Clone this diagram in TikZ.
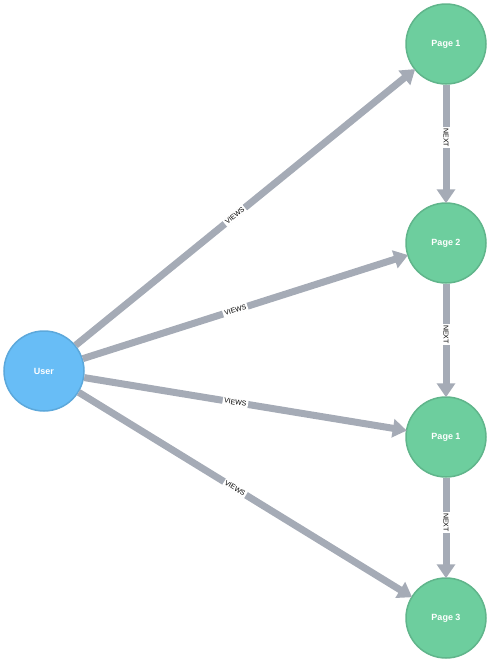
\documentclass[tikz,border=0pt]{standalone}
\usepackage{fontspec}
\setmainfont{Liberation Sans}
\usetikzlibrary{arrows.meta}
\definecolor{userfill}{HTML}{68BDF6}
\definecolor{userdraw}{HTML}{5CA8DB}
\definecolor{pagefill}{HTML}{6DCE9E}
\definecolor{pagedraw}{HTML}{60B58B}
\definecolor{edgecol}{HTML}{A5ABB6}
\tikzset{
  usernode/.style={circle, minimum size=80pt, inner sep=0pt, fill=userfill, draw=userdraw, line width=1.5pt, text=white, font=\bfseries\fontsize{9}{10}\selectfont},
  pagenode/.style={circle, minimum size=80pt, inner sep=0pt, fill=pagefill, draw=pagedraw, line width=1.5pt, text=white, font=\bfseries\fontsize{9}{10}\selectfont},
  rel/.style={draw=edgecol, line width=7pt, -{Triangle[width=18pt,length=14pt]}, shorten >=-1pt},
  rlabel/.style={fill=white, inner sep=1.5pt, text=black, font=\fontsize{7}{8}\selectfont},
}
\begin{document}
\begin{tikzpicture}[x=1pt,y=-1pt]
\useasboundingbox (0,0) rectangle (491,662);
\node[usernode] (user) at (44,371) {User};
\node[pagenode] (p1) at (446,44) {Page 1};
\node[pagenode] (p2) at (446,243) {Page 2};
\node[pagenode] (p1b) at (446,437) {Page 1};
\node[pagenode] (p3) at (446,618) {Page 3};
\draw[rel] (user) -- node[rlabel, sloped, pos=0.47] {VIEWS} (p1);
\draw[rel] (user) -- node[rlabel, sloped, pos=0.47] {VIEWS} (p2);
\draw[rel] (user) -- node[rlabel, sloped, pos=0.47] {VIEWS} (p1b);
\draw[rel] (user) -- node[rlabel, sloped, pos=0.47] {VIEWS} (p3);
\draw[rel] (p1) -- node[rlabel, rotate=-90, pos=0.45] {NEXT} (p2);
\draw[rel] (p2) -- node[rlabel, rotate=-90, pos=0.45] {NEXT} (p1b);
\draw[rel] (p1b) -- node[rlabel, rotate=-90, pos=0.45] {NEXT} (p3);
\end{tikzpicture}
\end{document}
